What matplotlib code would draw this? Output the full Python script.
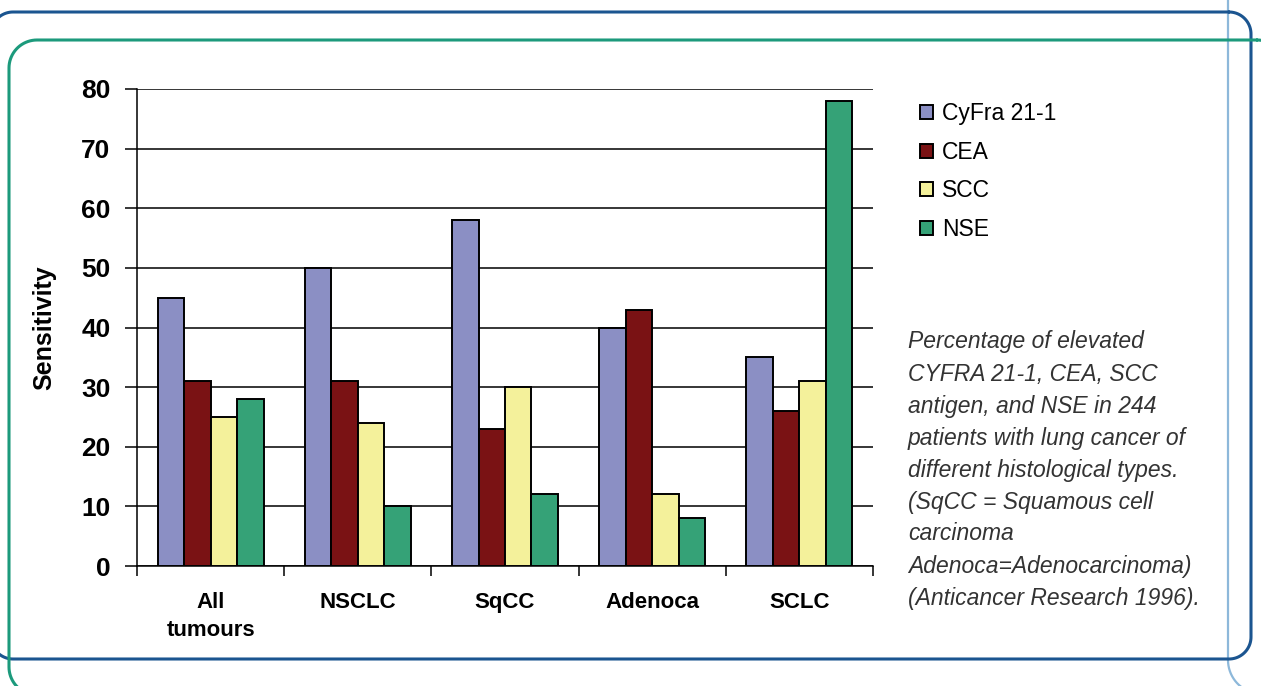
import numpy as np
import matplotlib.pyplot as plt

categories = ['All\ntumours', 'NSCLC', 'SqCC', 'Adenoca', 'SCLC']
markers = ['CyFra 21-1', 'CEA', 'SCC', 'NSE']
cyfra = [45, 50, 58, 40, 35]
cea = [31, 31, 23, 43, 26]
scc = [25, 24, 30, 12, 31]
nse = [28, 10, 12, 8, 78]
series = [cyfra, cea, scc, nse]
colors = ['#8b8fc4', '#7a1214', '#f4f19b', '#35a277']

note_lines = [
    'Percentage of elevated',
    'CYFRA 21-1, CEA, SCC',
    'antigen, and NSE in 244',
    'patients with lung cancer of',
    'different histological types.',
    '(SqCC = Squamous cell',
    'carcinoma',
    'Adenoca=Adenocarcinoma)',
    '(Anticancer Research 1996).',
]

W, H = 1261, 686
plt.rcParams['font.family'] = ['Liberation Sans', 'DejaVu Sans']
fig = plt.figure(figsize=(W / 100, H / 100), dpi=100)

# background layer in pixel units for the rounded frames
bg = fig.add_axes([0, 0, 1, 1], zorder=-1)
bg.set_xlim(0, W)
bg.set_ylim(H, 0)
bg.axis('off')


def frame(x0, y0, x1, y1, r, color, lw):
    t = np.linspace(0, np.pi / 2, 20)
    corners = [(x1 - r, y0 + r, -np.pi / 2), (x1 - r, y1 - r, 0),
               (x0 + r, y1 - r, np.pi / 2), (x0 + r, y0 + r, np.pi)]
    xs, ys = [], []
    for cx, cy, a in corners:
        xs.extend(cx + r * np.cos(a + t))
        ys.extend(cy + r * np.sin(a + t))
    xs.append(xs[0])
    ys.append(ys[0])
    bg.plot(xs, ys, color=color, linewidth=lw, clip_on=False,
            solid_capstyle='round')


frame(1228, -60, 1320, 694, 34, '#8db8da', 1.6)
frame(-9, 12, 1251, 659, 22, '#1b5590', 2.2)
frame(9, 40, 1285, 695, 28, '#1c9a7c', 2.2)

ax = fig.add_axes([137 / W, 1 - 566 / H, 736 / W, 477 / H])
x = np.arange(len(categories))
bw = 0.18
for i, (vals, c, name) in enumerate(zip(series, colors, markers)):
    ax.bar(x + (i - 1.5) * bw, vals, bw, color=c, edgecolor='black',
           linewidth=1.4, label=name, zorder=3)

ax.set_xlim(-0.5, len(categories) - 0.5)
ax.set_ylim(0, 80)
ax.set_yticks(range(0, 81, 10))
ax.yaxis.grid(True, color='black', linewidth=1.1, zorder=0)
ax.set_axisbelow(True)
for s in ['top', 'right']:
    ax.spines[s].set_visible(False)
ax.spines['left'].set_linewidth(1.1)
ax.spines['bottom'].set_linewidth(1.1)

ax.set_xticks(x)
ax.set_xticklabels(categories, fontsize=16, fontweight='bold', linespacing=1.4)
ax.tick_params(axis='x', length=0, pad=19)
ax.set_xticks(np.arange(-0.5, len(categories), 1.0), minor=True)
ax.tick_params(axis='x', which='minor', length=7, width=1.1, direction='out')
ax.tick_params(axis='y', length=9, width=1.1, pad=10, labelsize=19)
for t in ax.get_yticklabels():
    t.set_fontweight('bold')
ax.set_ylabel('Sensitivity', fontsize=18, fontweight='bold', labelpad=18)

ax.legend(loc='upper left', bbox_to_anchor=(911 / W, 1 - 93 / H),
          bbox_transform=fig.transFigure, frameon=False, fontsize=16.5,
          handlelength=0.55, handleheight=0.55, handletextpad=0.4,
          labelspacing=0.68, borderaxespad=0)

for k, line in enumerate(note_lines):
    fig.text(908 / W, 1 - (342 + 32 * k) / H, line, fontsize=16.5,
             style='italic', color='#333333', va='center', ha='left')

fig.savefig('out.png', dpi=100)
